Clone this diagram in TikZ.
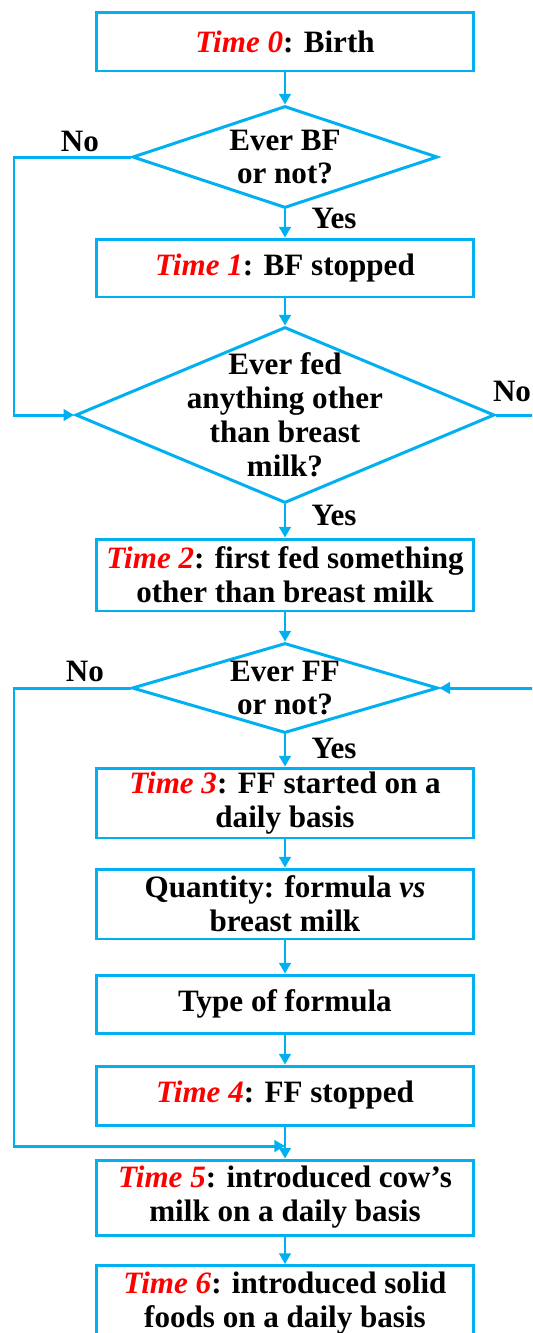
\documentclass[tikz,border=0pt]{standalone}
\usepackage{fontspec}
\setmainfont{Liberation Serif}
\usetikzlibrary{arrows.meta}
\usetikzlibrary{shapes.geometric}
\definecolor{flowblue}{RGB}{0,176,240}
\newcommand{\timelbl}[1]{\textcolor{red}{\textit{#1}}}

\begin{document}
\begin{tikzpicture}[x=0.02cm, y=-0.02cm,
  every node/.style={font=\bfseries\fontsize{17.7}{19.3}\selectfont, align=center, inner sep=0pt},
  box/.style={draw=flowblue, line width=1.7pt, minimum width=7.54cm},
  decision/.style={draw=flowblue, line width=1.7pt, diamond},
  link/.style={flowblue, line width=1.7pt, -{Triangle[length=6pt,width=6.5pt]}},
  plain/.style={flowblue, line width=1.7pt}]
\path[use as bounding box, clip] (0,0) rectangle (532,1333);
\coordinate (rail) at (14,0);
\coordinate (edge) at (545,0);
\coordinate (j5) at (285,1146);
% boxes and questions
\node[box, minimum height=1.18cm] (box0) at (285,41.5) {\timelbl{Time 0}: Birth};
\node[decision, minimum width=6.1cm, minimum height=2.04cm] (d1) at (285,157) {};
\node (q1) at (d1) {Ever BF\\or not?};
\node[box, minimum height=1.16cm] (box1) at (285,268) {\timelbl{Time 1}: BF stopped};
\node[decision, minimum width=8.38cm, minimum height=3.52cm] (d2) at (285,415) {};
\node (q2) at (d2) {Ever fed\\anything other\\than breast\\milk?};
\node[box, minimum height=1.44cm] (box2) at (285,575) {\timelbl{Time 2}: first fed something\\other than breast milk};
\node[decision, minimum width=6.12cm, minimum height=1.8cm] (d3) at (285,688) {};
\node (q3) at (d3) {Ever FF\\or not?};
\node[box, minimum height=1.4cm] (box3) at (285,803) {\timelbl{Time 3}: FF started on a\\daily basis};
\node[box, minimum height=1.4cm] (box4) at (285,904) {Quantity: formula \textit{vs}\\breast milk};
\node[box, minimum height=1.16cm] (box5) at (285,1004) {Type of formula};
\node[box, minimum height=1.18cm] (box6) at (285,1095.5) {\timelbl{Time 4}: FF stopped};
\node[box, minimum height=1.5cm] (box7) at (285,1197.5) {\timelbl{Time 5}: introduced cow’s\\milk on a daily basis};
\node[box, minimum height=1.5cm] (box8) at (285,1303) {\timelbl{Time 6}: introduced solid\\foods on a daily basis};
% yes / no
\node (no1) at (80,141) {No};
\node (yes1) at (334,218) {Yes};
\node (no2) at (512,391) {No};
\node (yes2) at (334,515) {Yes};
\node (no3) at (85,671) {No};
\node (yes3) at (334,748) {Yes};
% connectors
\draw[link] (box0) -- (d1);
\draw[link] (d1) -- (box1);
\draw[link] (d1.west) -- (d1.west -| rail) |- (d2.west);
\draw[link] (box1) -- (d2);
\draw[link] (d2) -- (box2);
\draw[plain] (d2.east) -- (d2.east -| edge);
\draw[link] (box2) -- (d3);
\draw[link] (d3.east -| edge) -- (d3.east);
\draw[link] (d3.west) -- (d3.west -| rail) |- (j5);
\draw[link] (d3) -- (box3);
\foreach \a/\b in {box3/box4, box4/box5, box5/box6, box6/box7, box7/box8}
  \draw[link] (\a) -- (\b);
\end{tikzpicture}
\end{document}
